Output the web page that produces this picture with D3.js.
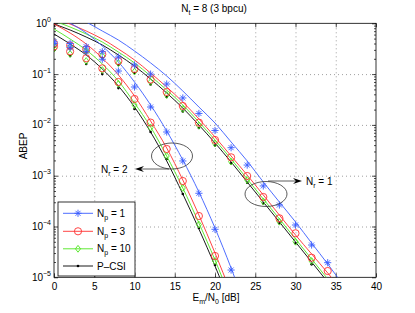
<!DOCTYPE html>
<html>
<head>
<meta charset="utf-8">
<script src="https://cdn.jsdelivr.net/npm/d3@7"></script>
<style>
  body { margin: 0; background: #fff; }
  text { font-family: 'Liberation Sans', Arial, sans-serif; fill: #000; }
</style>
</head>
<body>
<div id="chart-area"></div>
<script>
// Em/N0 [dB] where the simulated points sit
const snrNr1 = [0, 2, 4, 6, 8, 10, 12, 14, 16, 18, 20, 22, 24, 26, 28, 30, 32, 34];
const snrNr2 = [0, 2, 4, 6, 8, 10, 12, 14, 16, 18, 20, 22];
// Em/N0 [dB] for the analytical curves
const snrBound = [0, 2, 4, 6, 8, 10, 12, 14, 16, 18, 20, 22, 24, 26, 28, 30, 32, 34, 36];

// simulated ABEP, Nr = 1
const simNr1Np1 = [0.43, 0.40, 0.346, 0.276, 0.217, 0.151, 0.100, 0.0638, 0.0339, 0.0168, 0.00776, 0.00356, 0.00162, 6.29e-4, 2.65e-4, 1.07e-4, 4.32e-5, 1.94e-5];
const simNr1Np3 = [0.40, 0.365, 0.308, 0.245, 0.181, 0.126, 0.0783, 0.0444, 0.0236, 0.0111, 0.00505, 0.0023, 9.86e-4, 3.81e-4, 1.45e-4, 7.35e-5, 2.43e-5, 1.33e-5];
const simNr1Np10 = [0.36, 0.342, 0.285, 0.227, 0.165, 0.112, 0.070, 0.0388, 0.0206, 0.00972, 0.00431, 0.00189, 8.23e-4, 3.11e-4, 1.24e-4, 5.02e-5, 2.09e-5];
const simNr1Pcsi = [0.34, 0.326, 0.266, 0.207, 0.151, 0.105, 0.0624, 0.0354, 0.0184, 0.00869, 0.00393, 0.00175, 7.28e-4, 2.84e-4, 1.16e-4, 4.67e-5, 1.8e-5];

// simulated ABEP, Nr = 2
const simNr2Np1 = [0.40, 0.33, 0.276, 0.196, 0.115, 0.0557, 0.0225, 0.00725, 0.00195, 4.51e-4, 8.81e-5, 1.39e-5];
const simNr2Np3 = [0.35, 0.279, 0.205, 0.130, 0.070, 0.0324, 0.0111, 0.00336, 7.86e-4, 1.61e-4, 2.63e-5];
const simNr2Np10 = [0.32, 0.249, 0.181, 0.120, 0.064, 0.0246, 0.0089, 0.00244, 5.73e-4, 1.09e-4, 2.09e-5];
const simNr2Pcsi = [0.29, 0.227, 0.158, 0.100, 0.053, 0.0206, 0.00725, 0.00213, 4.37e-4, 9.34e-5, 1.75e-5];

// analytical curves, Nr = 1
const boundNr1Np1 = [2.19, 1.52, 1.06, 0.705, 0.469, 0.285, 0.166, 0.0918, 0.0465, 0.0225, 0.0109, 0.00461, 0.00195, 7.52e-4, 3.03e-4, 1.23e-4, 4.73e-5, 1.83e-5, 6.75e-6];
const boundNr1Np3 = [1.27, 0.968, 0.705, 0.491, 0.312, 0.190, 0.105, 0.0557, 0.0282, 0.0131, 0.00578, 0.00244, 0.00103, 4.17e-4, 1.68e-4, 6.81e-5, 2.88e-5, 1.22e-5, 4.91e-6];
const boundNr1Np10 = [1.11, 0.845, 0.616, 0.428, 0.272, 0.166, 0.0918, 0.0486, 0.0247, 0.0114, 0.00505, 0.00213, 8.61e-4, 3.48e-4, 1.41e-4, 5.68e-5, 2.29e-5, 9.27e-6];
const boundNr1Pcsi = [0.968, 0.738, 0.537, 0.374, 0.238, 0.144, 0.0801, 0.0425, 0.0215, 0.00995, 0.00441, 0.00186, 7.52e-4, 3.03e-4, 1.23e-4, 4.95e-5, 2.0e-5, 8.07e-6];

// analytical curves, Nr = 2
const boundNr2Np1 = [1.46, 1.01, 0.644, 0.357, 0.173, 0.0699, 0.0247, 0.00759, 0.00204, 4.78e-4, 9.33e-5, 1.52e-5, 2.07e-6];
const boundNr2Np3 = [0.968, 0.644, 0.391, 0.207, 0.0960, 0.0371, 0.0119, 0.00351, 8.23e-4, 1.68e-4, 3.01e-5, 4.91e-6];
const boundNr2Np10 = [0.772, 0.491, 0.298, 0.158, 0.0731, 0.0270, 0.0091, 0.00244, 5.73e-4, 1.17e-4, 2.19e-5, 3.57e-6];
const boundNr2Pcsi = [0.616, 0.392, 0.238, 0.126, 0.0583, 0.0225, 0.00724, 0.00195, 4.36e-4, 8.93e-5, 1.67e-5, 2.72e-6];

const legendLabels = [['N', 'p', ' = 1'], ['N', 'p', ' = 3'], ['N', 'p', ' = 10'], ['P\u2013CSI', '', '']];
const xTicks = [0, 5, 10, 15, 20, 25, 30, 35, 40];
const yDecades = [1e-5, 1e-4, 1e-3, 1e-2, 1e-1, 1];

const width = 415;
const height = 313;
const plot = { left: 54, right: 376, top: 23.3, bottom: 277.3 };

const styles = [
  { color: '#3a5cff', marker: 'star' },
  { color: '#ff3030', marker: 'circle' },
  { color: '#4ee61e', marker: 'diamond' },
  { color: '#000000', marker: 'dot' },
];

const xScale = d3.scaleLinear().domain([0, 40]).range([plot.left, plot.right]);
const yScale = d3.scaleLog().domain([1e-5, 1]).range([plot.bottom, plot.top]);

const svg = d3
  .select('#chart-area')
  .append('svg')
  .attr('width', width)
  .attr('height', height);

svg.append('rect').attr('width', width).attr('height', height).attr('fill', '#fff');

svg
  .append('clipPath')
  .attr('id', 'clip')
  .append('rect')
  .attr('x', plot.left)
  .attr('y', plot.top)
  .attr('width', plot.right - plot.left)
  .attr('height', plot.bottom - plot.top);

//grid
svg
  .append('g')
  .attr('transform', `translate(0, ${plot.bottom})`)
  .call(d3.axisBottom(xScale).tickValues(xTicks.slice(1, -1)).tickSize(-(plot.bottom - plot.top)).tickFormat(''))
  .call((g) => g.select('.domain').remove())
  .selectAll('line')
  .attr('stroke', '#888')
  .attr('stroke-dasharray', '1,3')
  .attr('stroke-width', 0.8);
svg
  .append('g')
  .attr('transform', `translate(${plot.left}, 0)`)
  .call(d3.axisLeft(yScale).tickValues(yDecades.slice(1, -1)).tickSize(-(plot.right - plot.left)).tickFormat(''))
  .call((g) => g.select('.domain').remove())
  .selectAll('line')
  .attr('stroke', '#888')
  .attr('stroke-dasharray', '1,3')
  .attr('stroke-width', 0.8);

//axes with inward ticks
let minor = [];
for (let e = -5; e < 0; e++) for (let m = 2; m <= 9; m++) minor.push(m * Math.pow(10, e));

function tidy(g) {
  g.select('.domain').remove();
  g.selectAll('line').attr('stroke', '#000').attr('stroke-width', 0.7);
}
svg
  .append('g')
  .attr('transform', `translate(0, ${plot.bottom})`)
  .call(d3.axisBottom(xScale).tickValues(xTicks).tickSize(-4).tickPadding(6))
  .call(tidy)
  .selectAll('text')
  .style('font-size', '10px')
  .style('font-family', "'Liberation Sans', Arial, sans-serif");
svg
  .append('g')
  .attr('transform', `translate(0, ${plot.top})`)
  .call(d3.axisTop(xScale).tickValues(xTicks).tickSize(-4).tickFormat(''))
  .call(tidy);
[
  [d3.axisLeft, plot.left],
  [d3.axisRight, plot.right],
].forEach(([axis, pos]) => {
  svg
    .append('g')
    .attr('transform', `translate(${pos}, 0)`)
    .call(axis(yScale).tickValues(yDecades).tickSize(-4).tickFormat(''))
    .call(tidy);
  svg
    .append('g')
    .attr('transform', `translate(${pos}, 0)`)
    .call(axis(yScale).tickValues(minor).tickSize(-2).tickFormat(''))
    .call(tidy);
});

//y tick labels as 10^n
yDecades.forEach((v) => {
  let t = svg
    .append('text')
    .attr('x', 51)
    .attr('y', yScale(v) + 3.5)
    .attr('text-anchor', 'end')
    .style('font-size', '10px');
  t.append('tspan').text('10');
  t.append('tspan')
    .attr('dy', -5)
    .style('font-size', '7px')
    .text(Math.round(Math.log10(v)) === 0 ? '0' : '\u2212' + -Math.round(Math.log10(v)));
});

//plot frame
svg
  .append('rect')
  .attr('x', plot.left)
  .attr('y', plot.top)
  .attr('width', plot.right - plot.left)
  .attr('height', plot.bottom - plot.top)
  .attr('fill', 'none')
  .attr('stroke', '#000')
  .attr('stroke-width', 0.8);

//markers
function drawMarker(g, type, color, cx, cy) {
  if (type === 'star') {
    let s = 3.6,
      k = 2.5;
    g.append('path')
      .attr('d', `M${cx - s},${cy}L${cx + s},${cy}M${cx},${cy - s}L${cx},${cy + s}M${cx - k},${cy - k}L${cx + k},${cy + k}M${cx - k},${cy + k}L${cx + k},${cy - k}`)
      .attr('stroke', color)
      .attr('stroke-width', 0.9)
      .attr('fill', 'none');
  } else if (type === 'circle') {
    g.append('circle').attr('cx', cx).attr('cy', cy).attr('r', 3.6).attr('stroke', color).attr('stroke-width', 0.9).attr('fill', 'none');
  } else if (type === 'diamond') {
    let s = 3.4;
    g.append('path')
      .attr('d', `M${cx},${cy - s}L${cx + s * 0.75},${cy}L${cx},${cy + s}L${cx - s * 0.75},${cy}Z`)
      .attr('stroke', color)
      .attr('stroke-width', 0.9)
      .attr('fill', 'none');
  } else {
    g.append('circle').attr('cx', cx).attr('cy', cy).attr('r', 1.3).attr('fill', color);
  }
}

let line = d3
  .line()
  .x((d) => xScale(d[0]))
  .y((d) => yScale(d[1]))
  .curve(d3.curveMonotoneX);

let bounds = [
  [boundNr1Np1, boundNr1Np3, boundNr1Np10, boundNr1Pcsi],
  [boundNr2Np1, boundNr2Np3, boundNr2Np10, boundNr2Pcsi],
];
let sims = [
  [simNr1Np1, simNr1Np3, simNr1Np10, simNr1Pcsi],
  [simNr2Np1, simNr2Np3, simNr2Np10, simNr2Pcsi],
];
let snrSim = [snrNr1, snrNr2];

let area = svg.append('g').attr('clip-path', 'url(#clip)');
//draw P-CSI first so coloured curves sit on top like the original
[3, 2, 1, 0].forEach((i) => {
  bounds.forEach((grp) => {
    area
      .append('path')
      .datum(grp[i].map((v, j) => [snrBound[j], v]))
      .attr('d', line)
      .attr('fill', 'none')
      .attr('stroke', styles[i].color)
      .attr('stroke-width', 0.9);
  });
});
[3, 2, 1, 0].forEach((i) => {
  sims.forEach((grp, n) => {
    grp[i].forEach((v, j) => {
      if (v >= 1e-5) drawMarker(area, styles[i].marker, styles[i].color, xScale(snrSim[n][j]), yScale(v));
    });
  });
});

//title and axis labels
let title = svg.append('text').attr('x', 214).attr('y', 12).attr('text-anchor', 'middle').style('font-size', '10px');
title.append('tspan').text('N');
title.append('tspan').attr('dy', 3).style('font-size', '7px').text('t');
title.append('tspan').attr('dy', -3).text(' = 8 (3 bpcu)');

let xl = svg.append('text').attr('x', 216).attr('y', 301).attr('text-anchor', 'middle').style('font-size', '10px');
xl.append('tspan').text('E');
xl.append('tspan').attr('dy', 3).style('font-size', '7px').text('m');
xl.append('tspan').attr('dy', -3).text('/N');
xl.append('tspan').attr('dy', 3).style('font-size', '7px').text('0');
xl.append('tspan').attr('dy', -3).text(' [dB]');

svg
  .append('text')
  .attr('transform', `translate(27, 146) rotate(-90)`)
  .attr('text-anchor', 'middle')
  .style('font-size', '10px')
  .text('ABEP');

//annotations
function note(cx, cy, rx, ry, x1, x2, ya, tx, ty, sub) {
  svg.append('ellipse').attr('cx', cx).attr('cy', cy).attr('rx', rx).attr('ry', ry).attr('fill', 'none').attr('stroke', '#333').attr('stroke-width', 0.8);
  let dir = x2 > x1 ? 1 : -1;
  svg.append('line').attr('x1', x1).attr('x2', x2 - dir * 6).attr('y1', ya).attr('y2', ya).attr('stroke', '#333').attr('stroke-width', 0.8);
  svg
    .append('path')
    .attr('d', `M${x2},${ya}L${x2 - dir * 9},${ya - 3}L${x2 - dir * 6},${ya}L${x2 - dir * 9},${ya + 3}Z`)
    .attr('fill', '#000');
  let t = svg.append('text').attr('x', tx).attr('y', ty).style('font-size', '10px');
  t.append('tspan').text('N');
  t.append('tspan').attr('dy', 3).style('font-size', '7px').text('r');
  t.append('tspan').attr('dy', -3).text(sub);
}
note(172, 156, 20.5, 13, 169, 135, 169, 101, 173, ' = 2');
note(266, 194, 21, 12.5, 268, 302, 181, 306, 185, ' = 1');

//legend
let legend = svg.append('g');
legend.append('rect').attr('x', 58).attr('y', 202).attr('width', 77).attr('height', 74).attr('fill', '#fff').attr('stroke', '#000').attr('stroke-width', 0.8);
let rowY = [213.3, 231.3, 248.8, 266];
styles.forEach((s, i) => {
  legend.append('line').attr('x1', 63).attr('x2', 93).attr('y1', rowY[i]).attr('y2', rowY[i]).attr('stroke', s.color).attr('stroke-width', 0.9);
  drawMarker(legend, s.marker, s.color, 78, rowY[i]);
  let t = legend.append('text').attr('x', 97).attr('y', rowY[i] + 3.5).style('font-size', '10px');
  t.append('tspan').text(legendLabels[i][0]);
  if (legendLabels[i][1]) {
    t.append('tspan').attr('dy', 3).style('font-size', '7px').text(legendLabels[i][1]);
    t.append('tspan').attr('dy', -3).text(legendLabels[i][2]);
  }
});
</script>
</body>
</html>
